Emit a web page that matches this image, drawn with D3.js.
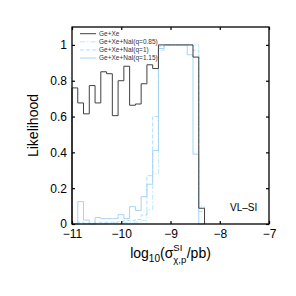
<!DOCTYPE html>
<html>
<head>
<meta charset="utf-8">
<script src="https://cdn.jsdelivr.net/npm/d3@7"></script>
<style>
  body { margin: 0; background: #fff; }
  text { font-family: "Liberation Sans", Arial, sans-serif; }
</style>
</head>
<body>
<div id="chart"></div>
<script>
//Bordes de los bins (log10 sigma)
const binEdges = [-11.000, -10.883, -10.766, -10.649, -10.532, -10.415, -10.298, -10.181,
    -10.064, -9.947, -9.830, -9.713, -9.596, -9.479, -9.362, -9.245, -9.128, -9.011,
    -8.894, -8.777, -8.660, -8.543, -8.426, -8.309];

//Likelihood por bin
const geXe = [0.76, 0.676, 0.615, 0.773, 0.676, 0.85, 0.839, 0.605, 0.80, 0.881, 0.663, 0.67,
    0.783, 0.889, 0.868, 1.0, 1.0, 1.0, 1.0, 1.0, 1.0, 0.932, 0.088];
const naI085 = [0, 0, 0, 0, 0, 0, 0.005, 0.005, 0.005, 0.01, 0.01, 0.01,
    0.02, 0.08, 0.28, 0.97, 1.0, 1.0, 1.0, 1.0, 1.0, 1.0, 0.1];
const naI100 = [0, 0.01, 0.005, 0.005, 0.01, 0.01, 0.01, 0.01, 0.015, 0.02, 0.02, 0.025,
    0.05, 0.27, 0.6, 0.99, 1.0, 1.0, 1.0, 1.0, 1.0, 0.97, 0.07];
const naI115 = [0, 0.125, 0.022, 0, 0.036, 0.03, 0.03, 0.03, 0.052, 0.03, 0.097, 0.075,
    0.153, 0.222, 0.41, 0.98, 1.0, 1.0, 1.0, 1.0, 0.945, 0.39, 0];

const xTicks = [-11, -10, -9, -8, -7];
const yTicks = [0, 0.2, 0.4, 0.6, 0.8, 1];
const legendLabels = ['Ge+Xe', 'Ge+Xe+NaI(q=0.85)', 'Ge+Xe+NaI(q=1)', 'Ge+Xe+NaI(q=1.15)'];

const series = [
    { values: naI085, color: '#bde9fa', dash: '5,2,1.5,2' },
    { values: naI100, color: '#afe0f8', dash: '4,2' },
    { values: naI115, color: '#a6d4f4', dash: null },
    { values: geXe, color: '#404040', dash: null }
];

let margin = {top: 27, right: 27, bottom: 72, left: 72},
    width = 296 - margin.left - margin.right,
    height = 296 - margin.top - margin.bottom;

let svg = d3.select('#chart')
    .append('svg')
        .attr('width', 296)
        .attr('height', 296)
    .append('g')
        .attr('transform', 'translate(' + margin.left + ',' + margin.top + ')');

let x = d3.scaleLinear().domain([-11, -7]).range([0, width]);
let y = d3.scaleLinear().domain([0, 1.1]).range([height, 0]);

//Histogramas en escalera
let line = d3.line()
    .x(function(d) { return x(d[0]); })
    .y(function(d) { return y(d[1]); });

function stairs(values) {
    let pts = [[binEdges[0], 0]];
    values.forEach(function(v, i) {
        pts.push([binEdges[i], v]);
        pts.push([binEdges[i + 1], v]);
    });
    pts.push([binEdges[binEdges.length - 1], 0]);
    return pts;
}

svg.selectAll('.hist')
    .data(series)
    .enter()
    .append('path')
    .attr('class', 'hist')
    .attr('d', function(d) { return line(stairs(d.values)); })
    .attr('fill', 'none')
    .attr('stroke', function(d) { return d.color; })
    .attr('stroke-width', 1)
    .attr('stroke-dasharray', function(d) { return d.dash; });

//Ejes con ticks hacia dentro
let fmt = d3.format('');
svg.append('g')
    .attr('transform', 'translate(0,' + height + ')')
    .call(d3.axisBottom(x).tickValues(xTicks).tickSizeInner(-3).tickSizeOuter(0).tickPadding(5).tickFormat(fmt))
    .call(function(g) {
        g.select('.domain').remove();
        g.selectAll('text').attr('font-size', 12).attr('fill', '#000');
    });
svg.append('g')
    .call(d3.axisTop(x).tickValues(xTicks).tickSizeInner(-3).tickSizeOuter(0).tickFormat(''))
    .call(function(g) { g.select('.domain').remove(); });
svg.append('g')
    .call(d3.axisLeft(y).tickValues(yTicks).tickSizeInner(-3).tickSizeOuter(0).tickPadding(5).tickFormat(fmt))
    .call(function(g) {
        g.select('.domain').remove();
        g.selectAll('text').attr('font-size', 12).attr('fill', '#000');
    });
svg.append('g')
    .attr('transform', 'translate(' + width + ',0)')
    .call(d3.axisRight(y).tickValues(yTicks).tickSizeInner(-3).tickSizeOuter(0).tickFormat(''))
    .call(function(g) { g.select('.domain').remove(); });

svg.selectAll('.tick line').attr('stroke', '#000').attr('stroke-width', 1.2);

svg.append('rect')
    .attr('width', width)
    .attr('height', height)
    .attr('fill', 'none')
    .attr('stroke', '#000')
    .attr('stroke-width', 1.3);

//Leyenda
let legend = svg.selectAll('.legend')
    .data(legendLabels)
    .enter()
    .append('g')
    .attr('class', 'legend')
    .attr('transform', function(d, i) { return 'translate(8,' + (6.7 + i * 8.1) + ')'; });

let legendStyle = [series[3], series[0], series[1], series[2]];
legend.append('line')
    .attr('x1', 0).attr('x2', 16)
    .attr('stroke', function(d, i) { return legendStyle[i].color; })
    .attr('stroke-dasharray', function(d, i) { return legendStyle[i].dash; })
    .attr('stroke-width', 1);
legend.append('text')
    .attr('x', 19)
    .attr('dy', '0.35em')
    .attr('font-size', 6.5)
    .attr('fill', '#333')
    .text(function(d) { return d; });

svg.append('text')
    .attr('x', 158)
    .attr('y', 184)
    .attr('font-size', 10)
    .text('VL–SI');

//Etiqueta eje Y
svg.append('text')
    .attr('transform', 'translate(-34,' + (height / 2) + ') rotate(-90)')
    .attr('text-anchor', 'middle')
    .attr('font-size', 14)
    .text('Likelihood');

//Etiqueta eje X con sub/superíndices apilados
let xl = svg.append('g');
let cx = 0, base = height + 34;
function piece(txt, size, dy) {
    let t = xl.append('text').attr('x', cx).attr('y', base + dy).attr('font-size', size).text(txt);
    return t.node().getComputedTextLength();
}
cx += piece('log', 14, 0);
cx += piece('10', 10, 4);
cx += piece('(σ', 14, 0);
let w1 = piece('SI', 9.5, -7);
let w2 = piece('χ,p', 9.5, 5);
cx += Math.max(w1, w2) + 0.5;
cx += piece('/pb)', 14, 0);
xl.attr('transform', 'translate(' + (width / 2 - cx / 2) + ',0)');
</script>
</body>
</html>
